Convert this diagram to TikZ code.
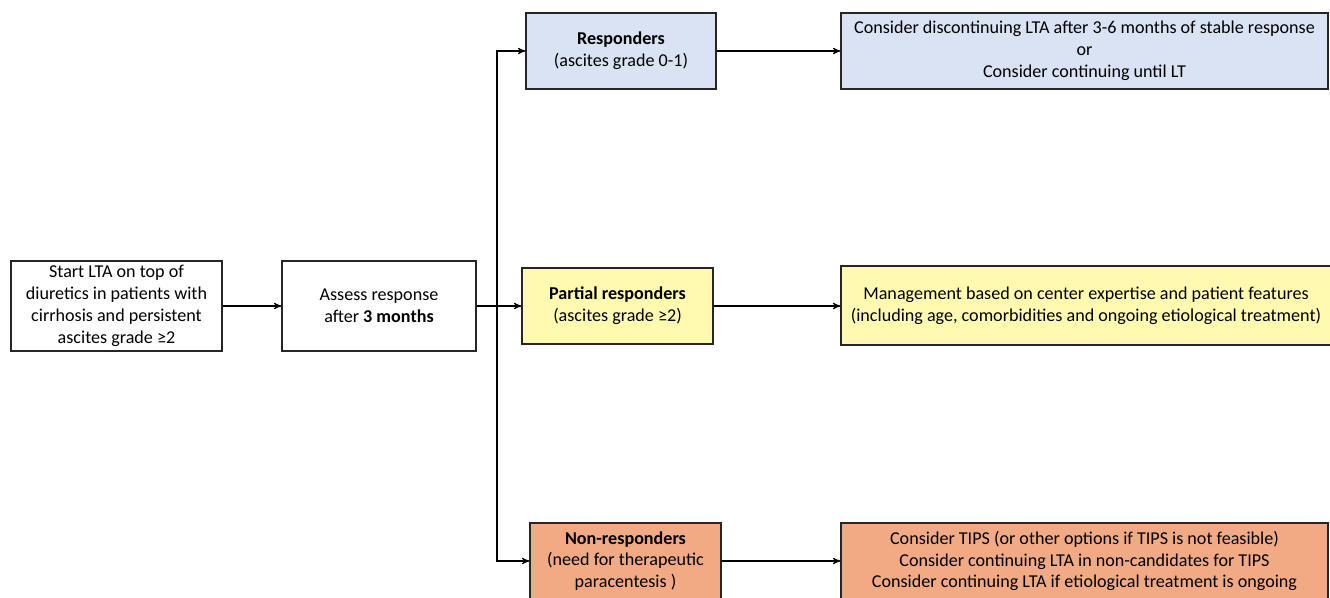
\documentclass[tikz,border=0pt]{standalone}
\usepackage{fontspec}
\setmainfont{Carlito}
\usetikzlibrary{arrows}

\definecolor{respblue}{HTML}{DAE3F3}
\definecolor{partyellow}{HTML}{FFFAB0}
\definecolor{nonorange}{HTML}{F2AA84}

\tikzset{
 box/.style={draw=black!85, line width=.6pt, align=center, inner sep=2pt,
  font=\fontsize{10.3}{12.4}\selectfont},
 link/.style={black, line width=.6pt, ->, >=stealth'},
}

\begin{document}
\begin{tikzpicture}
\useasboundingbox (0,0) rectangle (26.6,11.96);
\clip (0,0) rectangle (26.6,11.96);

% left part
\node[box, minimum width=4.22cm, minimum height=1.8cm] (start) at (2.33,5.84)
 {Start LTA on top of\\diuretics in patients with\\cirrhosis and persistent\\ascites grade ≥2};
\node[box, minimum width=3.88cm, minimum height=1.8cm] (assess) at (7.58,5.84)
 {Assess response\\after \textbf{3 months}};

% response groups
\node[box, fill=respblue, minimum width=3.8cm, minimum height=1.52cm] (resp) at (12.42,10.94)
 {\textbf{Responders}\\(ascites grade 0-1)};
\node[box, fill=partyellow, minimum width=3.82cm, minimum height=1.52cm] (part) at (12.35,5.84)
 {\textbf{Partial responders}\\(ascites grade ≥2)};
\node[box, fill=nonorange, minimum width=3.82cm, minimum height=1.52cm] (non) at (12.51,0.74)
 {\textbf{Non-responders}\\(need for therapeutic\\paracentesis )};

% management
\node[box, fill=respblue, minimum width=9.74cm, minimum height=1.52cm] (respmgmt) at (21.69,10.94)
 {Consider discontinuing LTA after 3-6 months of stable response\\or\\Consider continuing until LT};
\node[box, fill=partyellow, minimum width=9.8cm, minimum height=1.58cm] (partmgmt) at (21.72,5.85)
 {Management based on center expertise and patient features\\(including age, comorbidities and ongoing etiological treatment)};
\node[box, fill=nonorange, minimum width=9.74cm, minimum height=1.52cm] (nonmgmt) at (21.69,0.74)
 {Consider TIPS (or other options if TIPS is not feasible)\\Consider continuing LTA in non-candidates for TIPS\\Consider continuing LTA if etiological treatment is ongoing};

\coordinate (trunk) at (9.94,5.84);

\draw[link] (start) -- (assess);
\draw[link] (assess) -- (part);
\draw[link] (trunk) |- (resp);
\draw[link] (trunk) |- (non);
\draw[link] (resp) -- (resp -| respmgmt.west);
\draw[link] (part) -- (part -| partmgmt.west);
\draw[link] (non) -- (non -| nonmgmt.west);

\end{tikzpicture}
\end{document}
